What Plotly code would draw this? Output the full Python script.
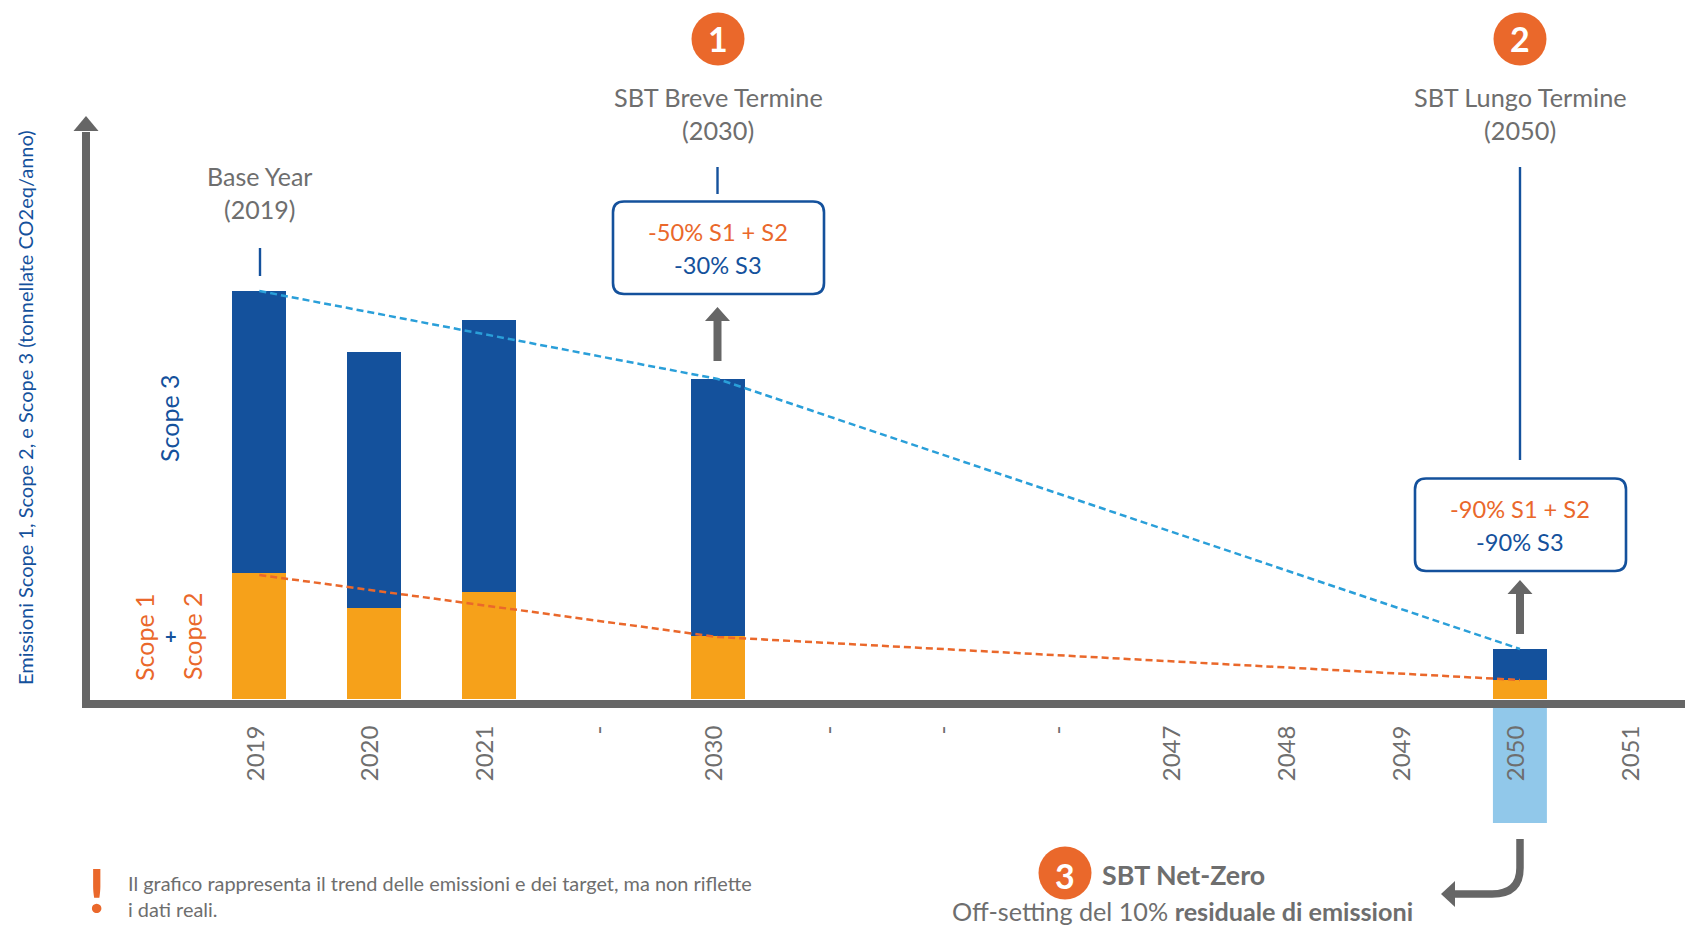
import plotly.graph_objects as go

# ---- data ----
tick_positions = [0, 1, 2, 3, 4, 5, 6, 7, 8, 9, 10, 11, 12]
tick_labels = ["2019", "2020", "2021", "-", "2030", "-", "-", "-", "2047", "2048", "2049", "2050", "2051"]
bar_positions = [0, 1, 2, 4, 11]
scope12_values = [126, 91, 107, 63, 19]
scope3_values = [282, 256, 272, 257, 31]
trend_positions = [0, 4, 11]
trend_total = [408, 320, 50]
trend_scope12 = [124, 62, 19]

# ---- palette ----
NAVY = "#14519c"
AMBER = "#f6a11a"
ORANGE = "#ea682b"
GREY = "#666666"
TXT = "#6e6e6e"
SKY = "#2a9fd9"
PALE = "#91c8ea"
FONT = "Lato"

W, H = 1685, 926
L, R, T, B = 90, 0, 132, 226
PW, PH = W - L - R, H - T - B


def px(x):
    return (x - L) / PW


def py(y):
    return 1 - (y - T) / PH


def P(x, y):
    return f"{px(x):.5f} {py(y):.5f}"


fig = go.Figure()
fig.add_bar(x=bar_positions, y=scope12_values, width=0.471, marker=dict(color=AMBER, line=dict(width=0)), name="Scope 1 + Scope 2")
fig.add_bar(x=bar_positions, y=scope3_values, width=0.471, marker=dict(color=NAVY, line=dict(width=0)), name="Scope 3")
fig.add_scatter(x=trend_positions, y=trend_total, mode="lines", line=dict(color=SKY, width=2.5, dash="7px,4px"), name="Target totale")
fig.add_scatter(x=trend_positions, y=trend_scope12, mode="lines", line=dict(color=ORANGE, width=2.5, dash="7px,4px"), name="Target S1+S2")

shapes = []


def pshape(path, fill=None, line=None, lw=0, layer="above"):
    shapes.append(dict(type="path", xref="paper", yref="paper", path=path, fillcolor=fill or "rgba(0,0,0,0)",
                       line=dict(color=line or "rgba(0,0,0,0)", width=lw), layer=layer))


def vline(x, y0, y1, color=NAVY, lw=2.4):
    pshape(f"M {P(x, y0)} L {P(x, y1)}", line=color, lw=lw)


def up_arrow(x, tip, base, bottom, head=25, shaft=8):
    pshape(f"M {P(x, tip)} L {P(x + head / 2, base)} L {P(x + shaft / 2, base)} L {P(x + shaft / 2, bottom)} "
           f"L {P(x - shaft / 2, bottom)} L {P(x - shaft / 2, base)} L {P(x - head / 2, base)} Z", fill=GREY)


def round_box(x0, y0, x1, y1, r=11):
    k = r
    pshape(f"M {P(x0 + k, y0)} L {P(x1 - k, y0)} Q {P(x1, y0)} {P(x1, y0 + k)} L {P(x1, y1 - k)} "
           f"Q {P(x1, y1)} {P(x1 - k, y1)} L {P(x0 + k, y1)} Q {P(x0, y1)} {P(x0, y1 - k)} L {P(x0, y0 + k)} "
           f"Q {P(x0, y0)} {P(x0 + k, y0)} Z", fill="#ffffff", line=NAVY, lw=2.6)


def circle(cx, cy, d=53):
    shapes.append(dict(type="circle", xref="paper", yref="paper", x0=px(cx - d / 2), x1=px(cx + d / 2),
                       y0=py(cy + d / 2), y1=py(cy - d / 2), fillcolor=ORANGE, line=dict(width=0), layer="above"))


# highlighted year band behind the 2050 tick label
shapes.append(dict(type="rect", xref="x", yref="paper", x0=11 - 0.2355, x1=11 + 0.2355, y0=py(823), y1=py(708),
                   fillcolor=PALE, line=dict(width=0), layer="below"))

# y axis arrow head
pshape(f"M {P(86, 116)} L {P(98.5, 131)} L {P(73.5, 131)} Z", fill=GREY)

vline(260, 248, 276)
vline(717.5, 167, 194)
vline(1520, 167, 460)
round_box(613, 201.5, 824, 294)
round_box(1415, 478.5, 1626, 571)
up_arrow(717.5, 307, 321, 361)
up_arrow(1520, 580, 594, 634)
circle(718, 39)
circle(1520, 39)
circle(1065, 873)

# curved off-setting arrow
pshape(f"M {P(1520, 839)} L {P(1520, 868)} Q {P(1520, 894)} {P(1492, 894)} L {P(1455, 894)}", line=GREY, lw=7.5)
pshape(f"M {P(1441, 894)} L {P(1455, 881)} L {P(1455, 907)} Z", fill=GREY)

ann = []


def text(x, y, s, size, color=TXT, angle=0, xanchor="center", align="center"):
    ann.append(dict(x=px(x), y=py(y), xref="paper", yref="paper", text=s, showarrow=False, xanchor=xanchor,
                    yanchor="middle", align=align, textangle=angle, font=dict(family=FONT, size=size, color=color)))


text(259, 176, "Base Year", 25)
text(259, 209, "(2019)", 25)
text(718, 97, "SBT Breve Termine", 25.3)
text(718, 130, "(2030)", 25.3)
text(1520, 97, "SBT Lungo Termine", 25.3)
text(1520, 130, "(2050)", 25.3)
text(718, 39, "<b>1</b>", 34, "#ffffff")
text(1520, 39, "<b>2</b>", 34, "#ffffff")
text(1065, 875, "<b>3</b>", 34, "#ffffff")
text(718, 232, "-50% S1 + S2", 23.6, ORANGE)
text(718, 265, "-30% S3", 23.6, NAVY)
text(1520, 509, "-90% S1 + S2", 23.6, ORANGE)
text(1520, 542, "-90% S3", 23.6, NAVY)
text(25, 408, "Emissioni Scope 1, Scope 2, e Scope 3 (tonnellate CO2eq/anno)", 20, NAVY, -90)
text(169, 418, "Scope 3", 25, NAVY, -90)
text(144, 637, "Scope 1", 25, ORANGE, -90)
text(171, 636, "<b>+</b>", 20, NAVY)
text(192, 636, "Scope 2", 25, ORANGE, -90)
text(96, 889, "<b>!</b>", 62, ORANGE)
text(126, 883, "Il grafico rappresenta il trend delle emissioni e dei target, ma non riflette", 19.9, TXT, 0, "left")
text(126, 909, "i dati reali.", 19.9, TXT, 0, "left")
text(1100, 875, "<b>SBT Net-Zero</b>", 26.8, TXT, 0, "left")
text(1182, 910.5, "Off-setting del 10% <b>residuale di emissioni</b>", 25.2, TXT)

fig.update_layout(
    width=W, height=H, margin=dict(l=L, r=R, t=T, b=B, pad=0, autoexpand=False),
    paper_bgcolor="#ffffff", plot_bgcolor="#ffffff", showlegend=False, barmode="stack",
    shapes=shapes, annotations=ann, font=dict(family=FONT, color=TXT),
)
fig.update_xaxes(
    range=[-1.4775, 12.4405], tickmode="array", tickvals=[t - 0.03 for t in tick_positions], ticktext=tick_labels,
    tickangle=-90, ticks="outside", ticklen=8, tickcolor="rgba(0,0,0,0)", showgrid=False, zeroline=False,
    showline=True, linewidth=8, linecolor=GREY, tickfont=dict(family=FONT, size=24, color=TXT), automargin=False,
)
fig.update_yaxes(
    range=[-1, 567], showticklabels=False, ticks="", showgrid=False, zeroline=False,
    showline=True, linewidth=8, linecolor=GREY, automargin=False,
)
fig.write_html("out.html", config={"displayModeBar": False},
               post_script="document.body.style.margin='0';document.body.style.overflow='hidden';")
